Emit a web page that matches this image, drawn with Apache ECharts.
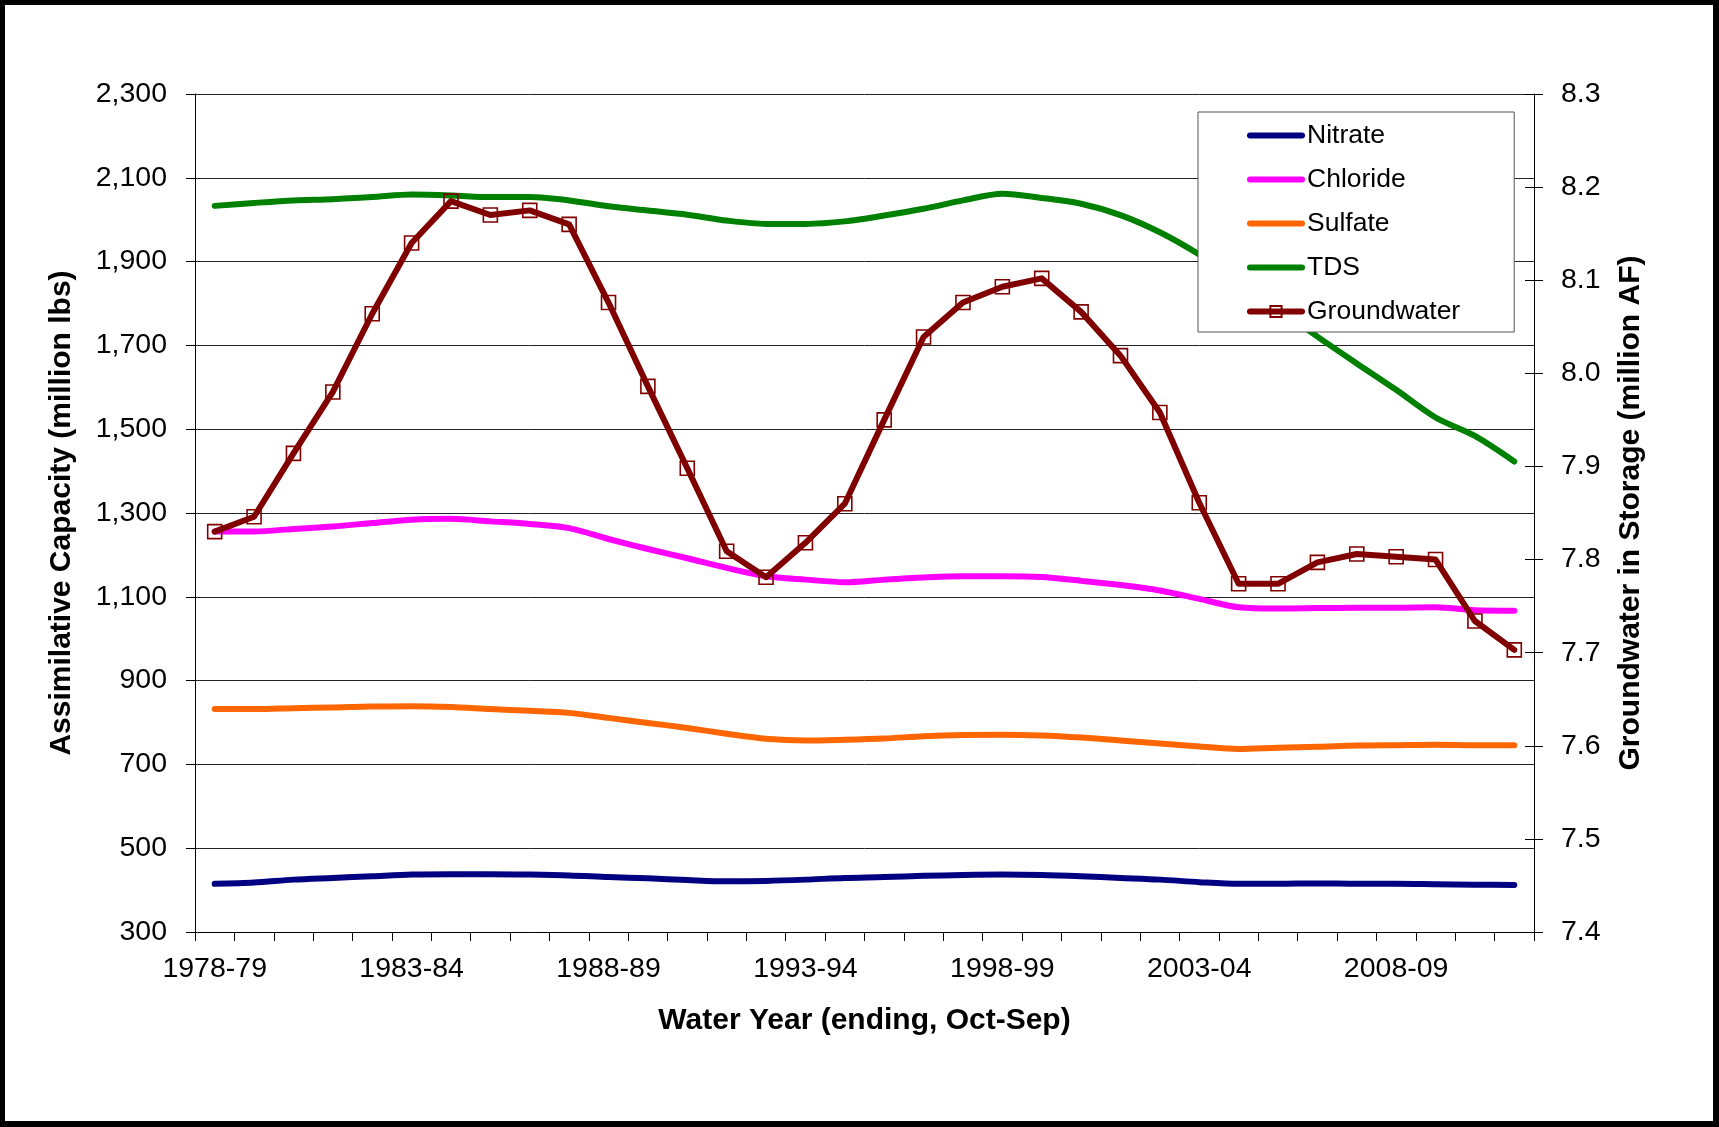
<!DOCTYPE html>
<html>
<head>
<meta charset="utf-8">
<title>Assimilative Capacity and Groundwater in Storage</title>
<script src="https://cdn.jsdelivr.net/npm/echarts@6/dist/echarts.min.js"></script>
<style>
  html, body { margin: 0; padding: 0; background: #fff; }
  #chart { position: absolute; left: 0; top: 0; width: 1719px; height: 1127px; }
  #frame {
    position: absolute; left: 0; top: 0; width: 1719px; height: 1127px;
    box-sizing: border-box; border-style: solid; border-color: #000;
    border-width: 5px 6px 6px 5px; pointer-events: none;
  }
</style>
</head>
<body>
<div id="chart"></div>
<div id="frame"></div>
<script>
// Water years, Oct-Sep
const waterYears = [
  '1978-79', '1979-80', '1980-81', '1981-82', '1982-83', '1983-84', '1984-85', '1985-86',
  '1986-87', '1987-88', '1988-89', '1989-90', '1990-91', '1991-92', '1992-93', '1993-94',
  '1994-95', '1995-96', '1996-97', '1997-98', '1998-99', '1999-00', '2000-01', '2001-02',
  '2002-03', '2003-04', '2004-05', '2005-06', '2006-07', '2007-08', '2008-09', '2009-10',
  '2010-11', '2011-12'
];

// Assimilative capacity, million lbs
const nitrate = [
  415, 418, 425, 429, 433, 437, 438, 438, 437, 435, 431, 428, 424, 421, 422, 425, 429,
  431, 434, 436, 437, 436, 433, 429, 425, 419, 415, 415, 416, 415, 415, 414, 413, 412
];
const chloride = [
  1256, 1256, 1262, 1268, 1276, 1284, 1286, 1280, 1274, 1264, 1238, 1214, 1192, 1169, 1149, 1141, 1135,
  1141, 1146, 1149, 1149, 1147, 1138, 1128, 1115, 1095, 1075, 1072, 1073, 1074, 1074, 1075, 1068, 1067
];
const sulfate = [
  832, 832, 834, 836, 838, 839, 837, 832, 828, 823, 811, 799, 787, 773, 761, 757, 759,
  762, 767, 770, 771, 769, 764, 757, 750, 743, 737, 740, 742, 745, 746, 747, 746, 746
];
const tds = [
  2033, 2040, 2046, 2049, 2054, 2060, 2058, 2054, 2054, 2046, 2032, 2022, 2012, 1998, 1990, 1990, 1996,
  2010, 2026, 2046, 2062, 2052, 2038, 2011, 1970, 1917, 1855, 1788, 1721, 1657, 1594, 1528, 1484, 1423
];

// Groundwater in storage, million AF
const groundwater = [
  7.830, 7.846, 7.914, 7.980, 8.064, 8.140, 8.185, 8.170, 8.175, 8.160, 8.076, 7.986,
  7.898, 7.809, 7.781, 7.818, 7.860, 7.950, 8.039, 8.076, 8.093, 8.102, 8.066, 8.019,
  7.958, 7.861, 7.774, 7.774, 7.797, 7.806, 7.803, 7.800, 7.734, 7.703
];

// Axis ranges
const leftMin = 300, leftMax = 2300, leftStep = 200;
const rightMin = 7.4, rightMax = 8.3, rightStep = 0.1;

const FONT = '"Liberation Sans", Arial, Helvetica, sans-serif';
const INK = '#000';
const GRID_LINE = '#222';

const seriesColors = {
  Nitrate: '#000080',
  Chloride: '#FF00FF',
  Sulfate: '#FF6600',
  TDS: '#008000',
  Groundwater: '#800000'
};

function capacityLine(name, values) {
  return {
    name: name,
    type: 'line',
    yAxisIndex: 0,
    data: values,
    smooth: 0.3,
    symbol: 'none',
    showSymbol: false,
    lineStyle: { color: seriesColors[name], width: 6, cap: 'round', join: 'round' },
    itemStyle: { color: seriesColors[name] },
    emphasis: { disabled: true },
    z: 2
  };
}

const chart = echarts.init(document.getElementById('chart'), null, { renderer: 'canvas' });

const option = {
  backgroundColor: '#fff',
  animation: false,
  textStyle: { fontFamily: FONT, color: INK },
  grid: { left: 195, right: 185, top: 94, bottom: 195, containLabel: false },
  legend: {
    orient: 'vertical',
    left: 1198,
    top: 112,
    padding: [10, 54, 7, 49],
    itemWidth: 52,
    itemHeight: 14,
    itemGap: 17,
    backgroundColor: '#fff',
    borderColor: '#555',
    borderWidth: 1,
    borderRadius: 0,
    selectedMode: false,
    lineStyle: { width: 6, cap: 'round' },
    textStyle: { fontFamily: FONT, fontSize: 26.5, color: INK, lineHeight: 26 },
    data: [
      { name: 'Nitrate', itemStyle: { opacity: 0 } },
      { name: 'Chloride', itemStyle: { opacity: 0 } },
      { name: 'Sulfate', itemStyle: { opacity: 0 } },
      { name: 'TDS', itemStyle: { opacity: 0 } },
      { name: 'Groundwater' }
    ]
  },
  xAxis: {
    type: 'category',
    data: waterYears,
    boundaryGap: true,
    name: 'Water Year (ending, Oct-Sep)',
    nameLocation: 'middle',
    nameGap: 74,
    nameTextStyle: { fontFamily: FONT, fontSize: 30, fontWeight: 'bold', color: INK },
    axisLine: { show: true, onZero: false, lineStyle: { color: INK, width: 1 } },
    axisTick: { show: true, interval: 0, length: 9, lineStyle: { color: INK, width: 1 } },
    axisLabel: { interval: 4, margin: 23, fontFamily: FONT, fontSize: 28.5, color: INK },
    splitLine: { show: false }
  },
  yAxis: [
    {
      type: 'value',
      position: 'left',
      min: leftMin,
      max: leftMax,
      interval: leftStep,
      name: 'Assimilative Capacity (million lbs)',
      nameLocation: 'middle',
      nameRotate: 90,
      nameGap: 118,
      nameTextStyle: { fontFamily: FONT, fontSize: 30, fontWeight: 'bold', color: INK },
      axisLine: { show: true, lineStyle: { color: INK, width: 1 } },
      axisTick: { show: true, length: 9, lineStyle: { color: INK, width: 1 } },
      axisLabel: {
        margin: 28, fontFamily: FONT, fontSize: 28.5, color: INK,
        formatter: function (v) { return v.toLocaleString('en-US'); }
      },
      splitLine: { show: true, lineStyle: { color: GRID_LINE, width: 1 } }
    },
    {
      type: 'value',
      position: 'right',
      min: rightMin,
      max: rightMax,
      interval: rightStep,
      name: 'Groundwater in Storage (million AF)',
      nameLocation: 'middle',
      nameRotate: 90,
      nameGap: 82,
      nameTextStyle: { fontFamily: FONT, fontSize: 30, fontWeight: 'bold', color: INK },
      axisLine: { show: true, lineStyle: { color: INK, width: 1 } },
      axisTick: { show: true, length: 9, lineStyle: { color: INK, width: 1 } },
      axisLabel: {
        margin: 27, fontFamily: FONT, fontSize: 28.5, color: INK,
        formatter: function (v) { return v.toFixed(1); }
      },
      splitLine: { show: false }
    },
    {
      // inner half of the cross tick marks on the storage axis
      type: 'value',
      position: 'right',
      min: rightMin,
      max: rightMax,
      interval: rightStep,
      axisLine: { show: false },
      axisTick: { show: true, inside: true, length: 9, lineStyle: { color: INK, width: 1 } },
      axisLabel: { show: false },
      splitLine: { show: false }
    }
  ],
  series: [
    capacityLine('Nitrate', nitrate),
    capacityLine('Chloride', chloride),
    capacityLine('Sulfate', sulfate),
    capacityLine('TDS', tds),
    {
      name: 'Groundwater',
      type: 'line',
      yAxisIndex: 1,
      data: groundwater,
      smooth: false,
      symbol: 'rect',
      symbolSize: 14,
      showSymbol: true,
      showAllSymbol: true,
      lineStyle: { color: seriesColors.Groundwater, width: 6, cap: 'round', join: 'round' },
      itemStyle: { color: 'rgba(255,255,255,0)', borderColor: seriesColors.Groundwater, borderWidth: 1.6 },
      emphasis: { disabled: true },
      z: 3
    }
  ]
};

chart.setOption(option);
</script>
</body>
</html>
